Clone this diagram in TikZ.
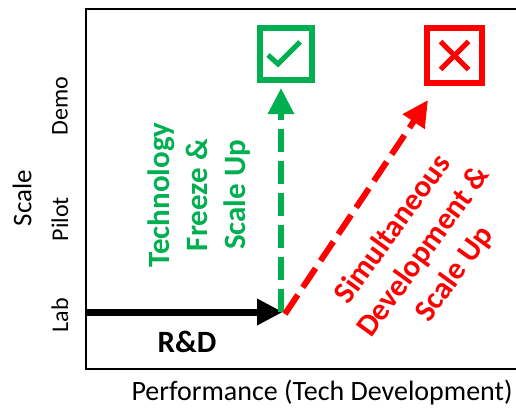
\documentclass[tikz,border=0pt]{standalone}
\usepackage{fontspec}
\setmainfont{Carlito}
\usetikzlibrary{arrows.meta}
\definecolor{okgreen}{RGB}{0,176,80}
\definecolor{failred}{RGB}{255,0,0}

\begin{document}
\begin{tikzpicture}[x=1pt,y=-1pt,
  tick/.style={rotate=90, inner sep=0pt, font=\fontsize{24}{29}\selectfont},
  bigtext/.style={align=center, inner sep=0pt, font=\fontsize{31}{38}\selectfont\bfseries},
  dashline/.style={line width=6pt, dash pattern=on 23pt off 9pt},
  markbox/.style={draw, line width=6pt, inner sep=0pt, minimum size=#1},
  bigtip/.style={-{Triangle[length=26pt,width=25pt]}}]

\useasboundingbox (0,0) rectangle (516,408);

% Draw the frame (no line on the right)
\draw [line width=2.5pt] (516,9) -- (86,9) -- (86,369) -- (516,369);

% Axis labels
\node (perf) [anchor=base, inner sep=0pt, font=\fontsize{28}{34}\selectfont] at (322,400) {Performance (Tech Development)};
\node (scale) [rotate=90, inner sep=0pt, font=\fontsize{27}{32}\selectfont] at (22,198) {Scale};
\node (demo) [tick] at (60,106) {Demo};
\node (pilot) [tick] at (60,219) {Pilot};
\node (lab) [tick] at (60,315) {Lab};

% Outcome boxes
\node (ok) [markbox=52pt, okgreen] at (286,54) {};
\node (fail) [markbox=55pt, failred] at (454.5,55.5) {};

\begin{scope} [shift={(ok.center)}]
\draw [okgreen, line width=5pt] (-18,1) -- (-8,10) -- (14,-12);
\end{scope}

\begin{scope} [shift={(fail.center)}]
\draw [failred, line width=5pt] (-14,-14) -- (14,14);
\draw [failred, line width=5pt] (-14,14) -- (14,-14);
\end{scope}

% Paths
\coordinate (start) at (87,312);
\coordinate (turn) at (283,312);
\coordinate (failtip) at (428,100);

\draw [bigtip, line width=7pt] (start) -- (turn);
\draw [bigtip, dashline, okgreen, shorten >=5pt] ([xshift=-2pt]turn) -- ([xshift=-5pt]ok.south);
\draw [bigtip, dashline, failred] ([shift={(2pt,-2pt)}]turn) -- (failtip);

% Path labels
\node (rd) [bigtext] at (187,342) {R\&D};
\node (freeze) [bigtext, okgreen, rotate=90] at (199,195) {Technology\\Freeze \&\\Scale Up};
\node (simul) [bigtext, failred, rotate=54] at (424,252) {Simultaneous\\Development \&\\Scale Up};

\end{tikzpicture}
\end{document}
